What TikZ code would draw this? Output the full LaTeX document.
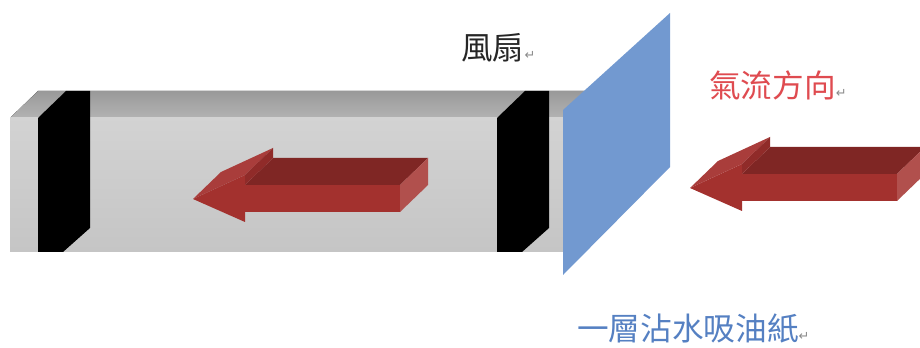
\documentclass[tikz,border=0pt]{standalone}
\usepackage{fontspec}
\newfontfamily\cjk{Noto Sans CJK TC}
\newfontfamily\symb{DejaVu Sans}
\definecolor{ducttop}{HTML}{A6A6A6}
\definecolor{ductfront}{HTML}{CBCBCB}
\definecolor{paper}{HTML}{7299D0}
\definecolor{flowred}{HTML}{A3312E}
\definecolor{flowtext}{HTML}{DF4B50}
\definecolor{papertext}{HTML}{5580C2}
\definecolor{retgray}{HTML}{8A8A8A}
\newcommand{\retmark}{{\symb\fontsize{11}{11}\selectfont\textcolor{retgray}{↵}}}

\begin{document}
\begin{tikzpicture}[x=0.03cm, y=-0.03cm,
      tag/.style={anchor=west, inner sep=0pt, font=\cjk\fontsize{27}{27}\selectfont},
      face/.style={line join=round}]
    \useasboundingbox (0,0) rectangle (920,348);
    % duct: top face and front face
    \fill[face, top color=ducttop!92!black, bottom color=ducttop!85!white]
      (10,118) -- (38,91) -- (593,91) -- (565,118) -- cycle;
    \fill[face, top color=ductfront!85!white, bottom color=ductfront!97!black]
      (10,118) rectangle (565,252);
    % the two black filters
    \foreach \bx in {38,497}
      \fill[face, black] (\bx,118) -- (\bx,252) -- ({\bx+25},252) -- ({\bx+52},228)
        -- ({\bx+52},91) -- ({\bx+28},91) -- cycle;
    % block arrow inside the duct
    \begin{scope}
      \fill[face, flowred] (193,199) -- (245,175) -- (245,185) -- (400,185) -- (400,212)
        -- (245,212) -- (245,222) -- cycle;
      \fill[face, flowred!78!black] (245,185) -- (400,185) -- (428,158) -- (273,158) -- cycle;
      \fill[face, flowred!94!white] (193,199) -- (245,175) -- (273,148) -- (221,172) -- cycle;
      \fill[face, flowred!88!black] (245,175) -- (245,185) -- (273,158) -- (273,148) -- cycle;
      \fill[face, flowred!85!white] (400,185) -- (428,158) -- (428,185) -- (400,212) -- cycle;
    \end{scope}
    % wet paper sheet
    \fill[face, paper] (563,110) -- (670,13) -- (670,167) -- (563,275) -- cycle;
    % block arrow outside, same shape moved
    \begin{scope}[shift={(497,-11)}]
      \fill[face, flowred] (193,199) -- (245,175) -- (245,185) -- (400,185) -- (400,212)
        -- (245,212) -- (245,222) -- cycle;
      \fill[face, flowred!78!black] (245,185) -- (400,185) -- (428,158) -- (273,158) -- cycle;
      \fill[face, flowred!94!white] (193,199) -- (245,175) -- (273,148) -- (221,172) -- cycle;
      \fill[face, flowred!88!black] (245,175) -- (245,185) -- (273,158) -- (273,148) -- cycle;
      \fill[face, flowred!85!white] (400,185) -- (428,158) -- (428,185) -- (400,212) -- cycle;
    \end{scope}
    % labels
    \node[tag, text=black!85] (fan) at (461,48) {風扇\retmark};
    \node[tag, text=flowtext] (flow) at (709,85) {氣流方向\retmark};
    \node[tag, text=papertext] (sheet) at (577,328) {一層沾水吸油紙\retmark};
  \end{tikzpicture}
\end{document}
